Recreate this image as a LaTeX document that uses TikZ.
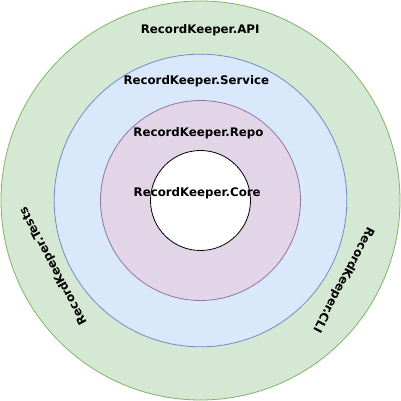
\documentclass[tikz,border=0pt]{standalone}
\usepackage{fontspec}
\setmainfont{DejaVu Sans}
\usepackage{tikz}
\usetikzlibrary{positioning}

\definecolor{apifill}{HTML}{D5E8D4}
\definecolor{apiline}{HTML}{82B366}
\definecolor{servicefill}{HTML}{DAE8FC}
\definecolor{serviceline}{HTML}{6C8EBF}
\definecolor{repofill}{HTML}{E1D5E7}
\definecolor{repoline}{HTML}{9673A6}

\begin{document}
\begin{tikzpicture}[x=1pt, y=1pt,
		layer/.style = {circle, draw, line width=0.8pt, inner sep=0pt, outer sep=0pt},
		lbl/.style = {font=\bfseries\fontsize{11.8}{14}\selectfont, inner sep=0pt}]
		\useasboundingbox (0,0) rectangle (401,401);

		% rings, outside in
		\node (api) [layer, fill=apifill, draw=apiline, minimum size=399] at (200.5,200.5) {};
		\node (service) [layer, fill=servicefill, draw=serviceline, minimum size=292.6] at (api.center) {};
		\node (repo) [layer, fill=repofill, draw=repoline, minimum size=200] at (api.center) {};
		\node (core) [layer, fill=white, draw=black, minimum size=100] at (api.center) {};

		% labels
		\node (apitext) [lbl] at (200.2,370.5) {RecordKeeper.API};
		\node (servicetext) [lbl] at (196.3,319.5) {RecordKeeper.Service};
		\node (repotext) [lbl] at (198.5,267.7) {RecordKeeper.Repo};
		\node (coretext) [lbl] at (197.2,207.7) {RecordKeeper.Core};
		\node (teststext) [lbl, rotate=118] at (53.5,135) {RecordKeeper.Tests};
		\node (clitext) [lbl, rotate=-118] at (343.3,121) {RecordKeeper.CLI};
	\end{tikzpicture}
\end{document}
